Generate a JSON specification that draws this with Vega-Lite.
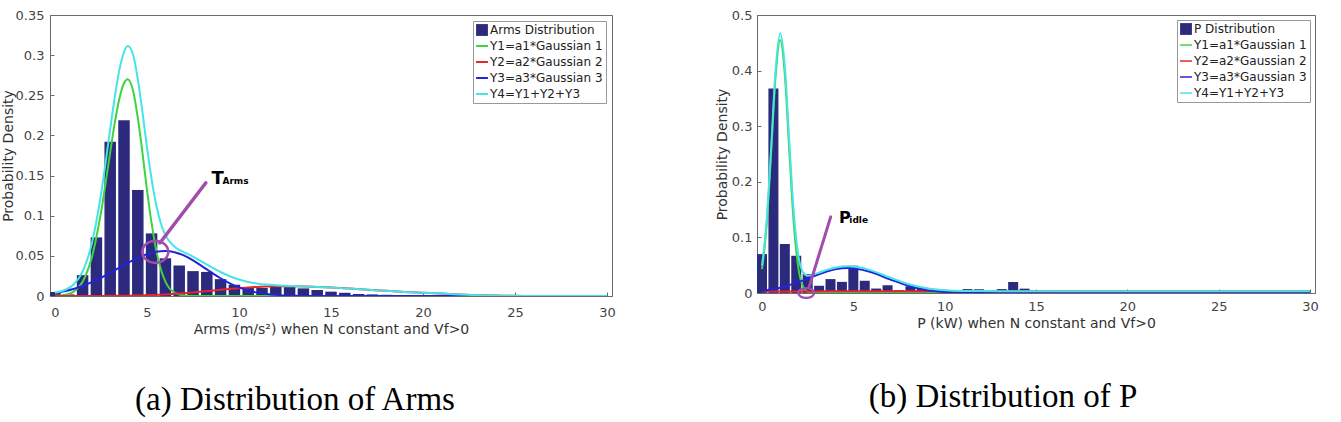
{
  "$schema": "https://vega.github.io/schema/vega-lite/v6.json",
  "background": "white",
  "padding": {"left": 0, "top": 8, "right": 2, "bottom": 0},
  "spacing": 98,
  "datasets": {
    "barsA": [
      {"x": 0, "y": 0.005}, {"x": 0.75, "y": 0.002}, {"x": 1.5, "y": 0.026}, {"x": 2.25, "y": 0.073},
      {"x": 3.0, "y": 0.192}, {"x": 3.75, "y": 0.219}, {"x": 4.5, "y": 0.132}, {"x": 5.25, "y": 0.078},
      {"x": 6.0, "y": 0.047}, {"x": 6.75, "y": 0.038}, {"x": 7.5, "y": 0.031}, {"x": 8.25, "y": 0.030},
      {"x": 9.0, "y": 0.021}, {"x": 9.75, "y": 0.014}, {"x": 10.5, "y": 0.011}, {"x": 11.25, "y": 0.010},
      {"x": 12.0, "y": 0.012}, {"x": 12.75, "y": 0.011}, {"x": 13.5, "y": 0.0095}, {"x": 14.25, "y": 0.0075},
      {"x": 15.0, "y": 0.0054}, {"x": 15.75, "y": 0.004}, {"x": 16.5, "y": 0.0025}, {"x": 17.25, "y": 0.002},
      {"x": 18.0, "y": 0.0015}, {"x": 18.75, "y": 0.001}, {"x": 19.5, "y": 0.0007}
    ],
    "fitA": [
      {"x": 0, "g1": 0.0002, "g2": 0, "g3": 0.0039, "y4": 0.0041},
      {"x": 0.5, "g1": 0.0012, "g2": 0, "g3": 0.006, "y4": 0.0072},
      {"x": 1, "g1": 0.0052, "g2": 0, "g3": 0.0088, "y4": 0.014},
      {"x": 1.5, "g1": 0.0178, "g2": 0, "g3": 0.0125, "y4": 0.0303},
      {"x": 2, "g1": 0.048, "g2": 0.0001, "g3": 0.0172, "y4": 0.0653},
      {"x": 2.5, "g1": 0.104, "g2": 0.0001, "g3": 0.0226, "y4": 0.1267},
      {"x": 3, "g1": 0.179, "g2": 0.0002, "g3": 0.0288, "y4": 0.208},
      {"x": 3.25, "g1": 0.216, "g2": 0.0002, "g3": 0.032, "y4": 0.2482},
      {"x": 3.5, "g1": 0.246, "g2": 0.0003, "g3": 0.0353, "y4": 0.2816},
      {"x": 3.75, "g1": 0.265, "g2": 0.0003, "g3": 0.0385, "y4": 0.3038},
      {"x": 3.95, "g1": 0.27, "g2": 0.0004, "g3": 0.041, "y4": 0.3114},
      {"x": 4.25, "g1": 0.255, "g2": 0.0005, "g3": 0.0446, "y4": 0.3001},
      {"x": 4.5, "g1": 0.222, "g2": 0.0006, "g3": 0.0474, "y4": 0.27},
      {"x": 4.75, "g1": 0.179, "g2": 0.0008, "g3": 0.0499, "y4": 0.2297},
      {"x": 5, "g1": 0.132, "g2": 0.001, "g3": 0.052, "y4": 0.185},
      {"x": 5.25, "g1": 0.0907, "g2": 0.0012, "g3": 0.0537, "y4": 0.1456},
      {"x": 5.5, "g1": 0.0572, "g2": 0.0014, "g3": 0.055, "y4": 0.1136},
      {"x": 5.75, "g1": 0.0333, "g2": 0.0017, "g3": 0.0557, "y4": 0.0907},
      {"x": 6, "g1": 0.0179, "g2": 0.002, "g3": 0.056, "y4": 0.0759},
      {"x": 6.5, "g1": 0.0041, "g2": 0.0027, "g3": 0.0546, "y4": 0.0614},
      {"x": 7, "g1": 0.0007, "g2": 0.0035, "g3": 0.0505, "y4": 0.0547},
      {"x": 7.5, "g1": 0.0001, "g2": 0.0045, "g3": 0.0444, "y4": 0.049},
      {"x": 8, "g1": 0, "g2": 0.0055, "g3": 0.037, "y4": 0.0425},
      {"x": 8.5, "g1": 0, "g2": 0.0066, "g3": 0.0294, "y4": 0.036},
      {"x": 9, "g1": 0, "g2": 0.0078, "g3": 0.0221, "y4": 0.0299},
      {"x": 9.5, "g1": 0, "g2": 0.0088, "g3": 0.0158, "y4": 0.0246},
      {"x": 10, "g1": 0, "g2": 0.0098, "g3": 0.0107, "y4": 0.0205},
      {"x": 10.5, "g1": 0, "g2": 0.0106, "g3": 0.0069, "y4": 0.0175},
      {"x": 11, "g1": 0, "g2": 0.0112, "g3": 0.0042, "y4": 0.0154},
      {"x": 11.5, "g1": 0, "g2": 0.0117, "g3": 0.0025, "y4": 0.0142},
      {"x": 12, "g1": 0, "g2": 0.012, "g3": 0.0014, "y4": 0.0134},
      {"x": 13, "g1": 0, "g2": 0.012, "g3": 0.0004, "y4": 0.0124},
      {"x": 14, "g1": 0, "g2": 0.0115, "g3": 0.0001, "y4": 0.0116},
      {"x": 15, "g1": 0, "g2": 0.0105, "g3": 0, "y4": 0.0105},
      {"x": 16, "g1": 0, "g2": 0.0092, "g3": 0, "y4": 0.0092},
      {"x": 17, "g1": 0, "g2": 0.0078, "g3": 0, "y4": 0.0078},
      {"x": 18, "g1": 0, "g2": 0.0064, "g3": 0, "y4": 0.0064},
      {"x": 19, "g1": 0, "g2": 0.0051, "g3": 0, "y4": 0.0051},
      {"x": 20, "g1": 0, "g2": 0.004, "g3": 0, "y4": 0.004},
      {"x": 21, "g1": 0, "g2": 0.003, "g3": 0, "y4": 0.003},
      {"x": 22, "g1": 0, "g2": 0.0018, "g3": 0, "y4": 0.0018},
      {"x": 23, "g1": 0, "g2": 0.001, "g3": 0, "y4": 0.001},
      {"x": 24, "g1": 0, "g2": 0.0005, "g3": 0, "y4": 0.0005},
      {"x": 25, "g1": 0, "g2": 0.0002, "g3": 0, "y4": 0.0002},
      {"x": 26, "g1": 0, "g2": 0.0001, "g3": 0, "y4": 0.0001},
      {"x": 28, "g1": 0, "g2": 0, "g3": 0, "y4": 0},
      {"x": 30, "g1": 0, "g2": 0, "g3": 0, "y4": 0}
    ],
    "barsP": [
      {"x": 0, "y": 0.070}, {"x": 0.625, "y": 0.368}, {"x": 1.25, "y": 0.088}, {"x": 1.875, "y": 0.067},
      {"x": 2.5, "y": 0.034}, {"x": 3.125, "y": 0.013}, {"x": 3.75, "y": 0.025}, {"x": 4.375, "y": 0.020},
      {"x": 5.0, "y": 0.049}, {"x": 5.625, "y": 0.022}, {"x": 6.25, "y": 0.008}, {"x": 6.875, "y": 0.014},
      {"x": 7.5, "y": 0.005}, {"x": 8.125, "y": 0.012}, {"x": 8.75, "y": 0.010}, {"x": 9.375, "y": 0.004},
      {"x": 10.0, "y": 0.003}, {"x": 10.625, "y": 0.004}, {"x": 11.25, "y": 0.007}, {"x": 11.875, "y": 0.0067},
      {"x": 12.5, "y": 0.0036}, {"x": 13.125, "y": 0.007}, {"x": 13.75, "y": 0.020}, {"x": 14.375, "y": 0.0078},
      {"x": 15.0, "y": 0.0036}, {"x": 15.625, "y": 0.002}, {"x": 16.25, "y": 0.004}, {"x": 16.875, "y": 0.004},
      {"x": 17.5, "y": 0.001}, {"x": 18.125, "y": 0.002}, {"x": 18.75, "y": 0.001}, {"x": 19.375, "y": 0.002},
      {"x": 20.0, "y": 0.002}, {"x": 20.625, "y": 0.001}, {"x": 21.25, "y": 0.002}, {"x": 21.875, "y": 0.001},
      {"x": 22.5, "y": 0.002}, {"x": 23.125, "y": 0.002}, {"x": 23.75, "y": 0.001}, {"x": 24.375, "y": 0.002},
      {"x": 25.0, "y": 0.002}, {"x": 25.625, "y": 0.001}, {"x": 26.25, "y": 0.001}, {"x": 26.875, "y": 0.001}
    ],
    "fitP": [
      {"x": 0, "g1": 0.0428, "g2": 0.0028, "g3": 0.0037, "y4": 0.0493},
      {"x": 0.25, "g1": 0.1204, "g2": 0.0028, "g3": 0.0048, "y4": 0.128},
      {"x": 0.5, "g1": 0.252, "g2": 0.0028, "g3": 0.0061, "y4": 0.2609},
      {"x": 0.75, "g1": 0.3925, "g2": 0.0028, "g3": 0.0077, "y4": 0.403},
      {"x": 1, "g1": 0.455, "g2": 0.0028, "g3": 0.0095, "y4": 0.4673},
      {"x": 1.25, "g1": 0.3925, "g2": 0.0029, "g3": 0.0117, "y4": 0.4071},
      {"x": 1.5, "g1": 0.252, "g2": 0.0029, "g3": 0.0141, "y4": 0.269},
      {"x": 1.75, "g1": 0.1204, "g2": 0.0029, "g3": 0.0168, "y4": 0.1401},
      {"x": 2, "g1": 0.0428, "g2": 0.0029, "g3": 0.0197, "y4": 0.0654},
      {"x": 2.25, "g1": 0.0113, "g2": 0.0029, "g3": 0.0228, "y4": 0.037},
      {"x": 2.5, "g1": 0.0022, "g2": 0.0029, "g3": 0.026, "y4": 0.0311},
      {"x": 3, "g1": 0, "g2": 0.0029, "g3": 0.0324, "y4": 0.0353},
      {"x": 3.5, "g1": 0, "g2": 0.003, "g3": 0.0382, "y4": 0.0412},
      {"x": 4, "g1": 0, "g2": 0.003, "g3": 0.0426, "y4": 0.0456},
      {"x": 4.7, "g1": 0, "g2": 0.003, "g3": 0.045, "y4": 0.048},
      {"x": 5.5, "g1": 0, "g2": 0.003, "g3": 0.0419, "y4": 0.0449},
      {"x": 6, "g1": 0, "g2": 0.0031, "g3": 0.0372, "y4": 0.0403},
      {"x": 7, "g1": 0, "g2": 0.0031, "g3": 0.0247, "y4": 0.0278},
      {"x": 8, "g1": 0, "g2": 0.0031, "g3": 0.0131, "y4": 0.0162},
      {"x": 9, "g1": 0, "g2": 0.0032, "g3": 0.0055, "y4": 0.0087},
      {"x": 10, "g1": 0, "g2": 0.0032, "g3": 0.0019, "y4": 0.0051},
      {"x": 11, "g1": 0, "g2": 0.0032, "g3": 0.0005, "y4": 0.0037},
      {"x": 12, "g1": 0, "g2": 0.0033, "g3": 0.0001, "y4": 0.0034},
      {"x": 13, "g1": 0, "g2": 0.0033, "g3": 0, "y4": 0.0033},
      {"x": 14, "g1": 0, "g2": 0.0033, "g3": 0, "y4": 0.0033},
      {"x": 16, "g1": 0, "g2": 0.0033, "g3": 0, "y4": 0.0033},
      {"x": 18, "g1": 0, "g2": 0.0033, "g3": 0, "y4": 0.0033},
      {"x": 20, "g1": 0, "g2": 0.0033, "g3": 0, "y4": 0.0033},
      {"x": 22, "g1": 0, "g2": 0.0033, "g3": 0, "y4": 0.0033},
      {"x": 24, "g1": 0, "g2": 0.0032, "g3": 0, "y4": 0.0032},
      {"x": 26, "g1": 0, "g2": 0.0032, "g3": 0, "y4": 0.0032},
      {"x": 28, "g1": 0, "g2": 0.0031, "g3": 0, "y4": 0.0031},
      {"x": 30, "g1": 0, "g2": 0.003, "g3": 0, "y4": 0.003}
    ]
  },
  "hconcat": [
    {
      "width": 562,
      "height": 281,
      "title": {"text": "(a)  Distribution of Arms", "orient": "bottom", "anchor": "middle", "offset": 48, "dx": -36},
      "encoding": {
        "x": {"field": "x", "type": "quantitative",
              "scale": {"domain": [0, 30], "nice": false, "zero": false},
              "axis": {"title": "Arms (m/s²) when N constant and Vf>0", "values": [0, 5, 10, 15, 20, 25, 30], "format": "~g", "labelPadding": 14, "titlePadding": 3, "labelFlush": false}},
        "y": {"field": "y", "type": "quantitative",
              "scale": {"domain": [0, 0.35], "nice": false},
              "axis": {"title": "Probability Density", "values": [0, 0.05, 0.1, 0.15, 0.2, 0.25, 0.3, 0.35], "format": "~g", "labelPadding": 10, "titlePadding": 0, "labelFlush": false}}
      },
      "layer": [
        {
          "data": {"name": "barsA"},
          "mark": {"type": "bar", "size": 11.5, "orient": "vertical", "clip": true},
          "encoding": {
            "color": {"datum": "bars", "type": "nominal",
              "scale": {"domain": ["bars", "g1", "g2", "g3", "y4"], "range": ["#2c2a7d", "#3fd33f", "#e3262b", "#2323dd", "#46e4e4"]},
              "legend": {"title": null, "orient": "top-right", "offset": 6, "strokeColor": "#9a9a9a", "fillColor": "white", "padding": 3,
                "labelFont": "DejaVu Sans", "labelFontSize": 12, "labelColor": "#222", "rowPadding": 4, "labelOffset": 2, "symbolType": "stroke", "symbolSize": 140,
                "labelExpr": "datum.label == 'bars' ? 'Arms Distribution' : datum.label == 'g1' ? 'Y1=a1*Gaussian 1' : datum.label == 'g2' ? 'Y2=a2*Gaussian 2' : datum.label == 'g3' ? 'Y3=a3*Gaussian 3' : 'Y4=Y1+Y2+Y3'",
                "encode": {"symbols": {"update": {
                  "shape": {"signal": "datum.value === 'bars' ? 'square' : 'stroke'"},
                  "fill": {"signal": "datum.value === 'bars' ? '#2c2a7d' : 'transparent'"},
                  "stroke": {"signal": "datum.value === 'bars' ? '#2c2a7d' : datum.value === 'g1' ? '#3fd33f' : datum.value === 'g2' ? '#e3262b' : datum.value === 'g3' ? '#2323dd' : '#46e4e4'"},
                  "strokeWidth": {"signal": "datum.value === 'bars' ? 0 : 2"},
                  "opacity": {"value": 1}
                }}}
              }
            }
          }
        },
        {
          "data": {"name": "fitA"},
          "transform": [{"fold": ["g1", "g2", "g3", "y4"], "as": ["key", "y"]}],
          "mark": {"type": "line", "strokeWidth": 2, "interpolate": "monotone", "clip": true},
          "encoding": {
            "color": {"field": "key", "type": "nominal",
              "scale": {"domain": ["bars", "g1", "g2", "g3", "y4"], "range": ["#2c2a7d", "#3fd33f", "#e3262b", "#2323dd", "#46e4e4"]},
              "legend": {"title": null, "orient": "top-right", "offset": 6, "strokeColor": "#9a9a9a", "fillColor": "white", "padding": 3,
                "labelFont": "DejaVu Sans", "labelFontSize": 12, "labelColor": "#222", "rowPadding": 4, "labelOffset": 2, "symbolType": "stroke", "symbolSize": 140,
                "labelExpr": "datum.label == 'bars' ? 'Arms Distribution' : datum.label == 'g1' ? 'Y1=a1*Gaussian 1' : datum.label == 'g2' ? 'Y2=a2*Gaussian 2' : datum.label == 'g3' ? 'Y3=a3*Gaussian 3' : 'Y4=Y1+Y2+Y3'",
                "encode": {"symbols": {"update": {
                  "shape": {"signal": "datum.value === 'bars' ? 'square' : 'stroke'"},
                  "fill": {"signal": "datum.value === 'bars' ? '#2c2a7d' : 'transparent'"},
                  "stroke": {"signal": "datum.value === 'bars' ? '#2c2a7d' : datum.value === 'g1' ? '#3fd33f' : datum.value === 'g2' ? '#e3262b' : datum.value === 'g3' ? '#2323dd' : '#46e4e4'"},
                  "strokeWidth": {"signal": "datum.value === 'bars' ? 0 : 2"},
                  "opacity": {"value": 1}
                }}}
              }
            }
          }
        },
        {
          "data": {"values": [{"x": 5.7, "y": 0.066, "x2": 8.2, "y2": 0.141}]},
          "mark": {"type": "rule", "color": "#a24cae", "strokeWidth": 3.5, "strokeCap": "round"},
          "encoding": {"x2": {"field": "x2"}, "y2": {"field": "y2"}}
        },
        {
          "data": {"values": [{"x": 5.45, "y": 0.055}]},
          "mark": {"type": "point", "shape": "M-1,0A1,0.85,0,1,1,1,0A1,0.85,0,1,1,-1,0Z", "size": 676, "filled": false, "stroke": "#a24cae", "strokeWidth": 2.5, "opacity": 1}
        },
        {
          "data": {"values": [{"x": 8.5, "y": 0.14, "label": "T"}]},
          "mark": {"type": "text", "font": "DejaVu Sans", "fontSize": 18, "fontWeight": "bold", "align": "left", "baseline": "alphabetic", "color": "#000"},
          "encoding": {"text": {"field": "label"}}
        },
        {
          "data": {"values": [{"x": 9.1, "y": 0.139, "label": "Arms"}]},
          "mark": {"type": "text", "font": "DejaVu Sans", "fontSize": 9, "fontWeight": "bold", "align": "left", "baseline": "alphabetic", "color": "#000"},
          "encoding": {"text": {"field": "label"}}
        }
      ]
    },
    {
      "width": 558,
      "height": 278,
      "title": {"text": "(b) Distribution of P", "orient": "bottom", "anchor": "middle", "offset": 51, "dx": -33},
      "encoding": {
        "x": {"field": "x", "type": "quantitative",
              "scale": {"domain": [0, 30], "nice": false, "zero": false},
              "axis": {"title": "P (kW) when N constant and Vf>0", "values": [0, 5, 10, 15, 20, 25, 30], "format": "~g", "labelPadding": 11, "titlePadding": 3, "labelFlush": false}},
        "y": {"field": "y", "type": "quantitative",
              "scale": {"domain": [0, 0.5], "nice": false},
              "axis": {"title": "Probability Density", "values": [0, 0.1, 0.2, 0.3, 0.4, 0.5], "format": "~g", "labelPadding": 9, "titlePadding": 2, "labelFlush": false}}
      },
      "layer": [
        {
          "data": {"name": "barsP"},
          "mark": {"type": "bar", "size": 10, "orient": "vertical", "clip": true},
          "encoding": {
            "color": {"datum": "bars", "type": "nominal",
              "scale": {"domain": ["bars", "g1", "g2", "g3", "y4"], "range": ["#2c2a7d", "#3fd33f", "#e3262b", "#2323dd", "#46e4e4"]},
              "legend": {"title": null, "orient": "top-right", "offset": 5, "strokeColor": "#9a9a9a", "fillColor": "white", "padding": 3,
                "labelFont": "DejaVu Sans", "labelFontSize": 12, "labelColor": "#222", "rowPadding": 4, "labelOffset": 2, "symbolType": "stroke", "symbolSize": 140,
                "labelExpr": "datum.label == 'bars' ? 'P Distribution' : datum.label == 'g1' ? 'Y1=a1*Gaussian 1' : datum.label == 'g2' ? 'Y2=a2*Gaussian 2' : datum.label == 'g3' ? 'Y3=a3*Gaussian 3' : 'Y4=Y1+Y2+Y3'",
                "encode": {"symbols": {"update": {
                  "shape": {"signal": "datum.value === 'bars' ? 'square' : 'stroke'"},
                  "fill": {"signal": "datum.value === 'bars' ? '#2c2a7d' : 'transparent'"},
                  "stroke": {"signal": "datum.value === 'bars' ? '#2c2a7d' : datum.value === 'g1' ? '#7fe07f' : datum.value === 'g2' ? '#ee7a7a' : datum.value === 'g3' ? '#6f6fe0' : '#8ef0f0'"},
                  "strokeWidth": {"signal": "datum.value === 'bars' ? 0 : 1.5"},
                  "opacity": {"value": 1}
                }}}
              }
            }
          }
        },
        {
          "data": {"name": "fitP"},
          "transform": [{"fold": ["g1", "g2", "g3", "y4"], "as": ["key", "y"]}],
          "mark": {"type": "line", "strokeWidth": 2, "interpolate": "monotone", "clip": true},
          "encoding": {
            "color": {"field": "key", "type": "nominal",
              "scale": {"domain": ["bars", "g1", "g2", "g3", "y4"], "range": ["#2c2a7d", "#3fd33f", "#e3262b", "#2323dd", "#46e4e4"]},
              "legend": {"title": null, "orient": "top-right", "offset": 5, "strokeColor": "#9a9a9a", "fillColor": "white", "padding": 3,
                "labelFont": "DejaVu Sans", "labelFontSize": 12, "labelColor": "#222", "rowPadding": 4, "labelOffset": 2, "symbolType": "stroke", "symbolSize": 140,
                "labelExpr": "datum.label == 'bars' ? 'P Distribution' : datum.label == 'g1' ? 'Y1=a1*Gaussian 1' : datum.label == 'g2' ? 'Y2=a2*Gaussian 2' : datum.label == 'g3' ? 'Y3=a3*Gaussian 3' : 'Y4=Y1+Y2+Y3'",
                "encode": {"symbols": {"update": {
                  "shape": {"signal": "datum.value === 'bars' ? 'square' : 'stroke'"},
                  "fill": {"signal": "datum.value === 'bars' ? '#2c2a7d' : 'transparent'"},
                  "stroke": {"signal": "datum.value === 'bars' ? '#2c2a7d' : datum.value === 'g1' ? '#7fe07f' : datum.value === 'g2' ? '#ee7a7a' : datum.value === 'g3' ? '#6f6fe0' : '#8ef0f0'"},
                  "strokeWidth": {"signal": "datum.value === 'bars' ? 0 : 1.5"},
                  "opacity": {"value": 1}
                }}}
              }
            }
          }
        },
        {
          "data": {"values": [{"x": 2.58, "y": 0.011, "x2": 3.76, "y2": 0.137}]},
          "mark": {"type": "rule", "color": "#a24cae", "strokeWidth": 3, "strokeCap": "round"},
          "encoding": {"x2": {"field": "x2"}, "y2": {"field": "y2"}}
        },
        {
          "data": {"values": [{"x": 2.42, "y": 0.0}]},
          "mark": {"type": "point", "shape": "M-1,0A1,0.62,0,1,1,1,0A1,0.62,0,1,1,-1,0Z", "size": 256, "filled": false, "stroke": "#a24cae", "strokeWidth": 2.2, "opacity": 1}
        },
        {
          "data": {"values": [{"x": 4.21, "y": 0.1265, "label": "P"}]},
          "mark": {"type": "text", "font": "DejaVu Sans", "fontSize": 16, "fontWeight": "bold", "align": "left", "baseline": "alphabetic", "color": "#000"},
          "encoding": {"text": {"field": "label"}}
        },
        {
          "data": {"values": [{"x": 4.78, "y": 0.1265, "label": "idle"}]},
          "mark": {"type": "text", "font": "DejaVu Sans", "fontSize": 9, "fontWeight": "bold", "align": "left", "baseline": "alphabetic", "color": "#000"},
          "encoding": {"text": {"field": "label"}}
        }
      ]
    }
  ],
  "resolve": {"scale": {"x": "independent", "y": "independent", "color": "independent"}, "legend": {"color": "independent"}},
  "config": {
    "view": {"stroke": "#6b6b6b", "strokeWidth": 1},
    "axis": {"labelFont": "DejaVu Sans", "labelFontSize": 13, "labelColor": "#444", "titleFont": "DejaVu Sans", "titleFontSize": 14, "titleFontWeight": "normal", "titleColor": "#333", "domainColor": "#6b6b6b", "tickColor": "#6b6b6b", "grid": false, "tickSize": -4},
    "title": {"font": "Liberation Serif", "fontSize": 33, "fontWeight": "normal", "color": "#000"}
  }
}
